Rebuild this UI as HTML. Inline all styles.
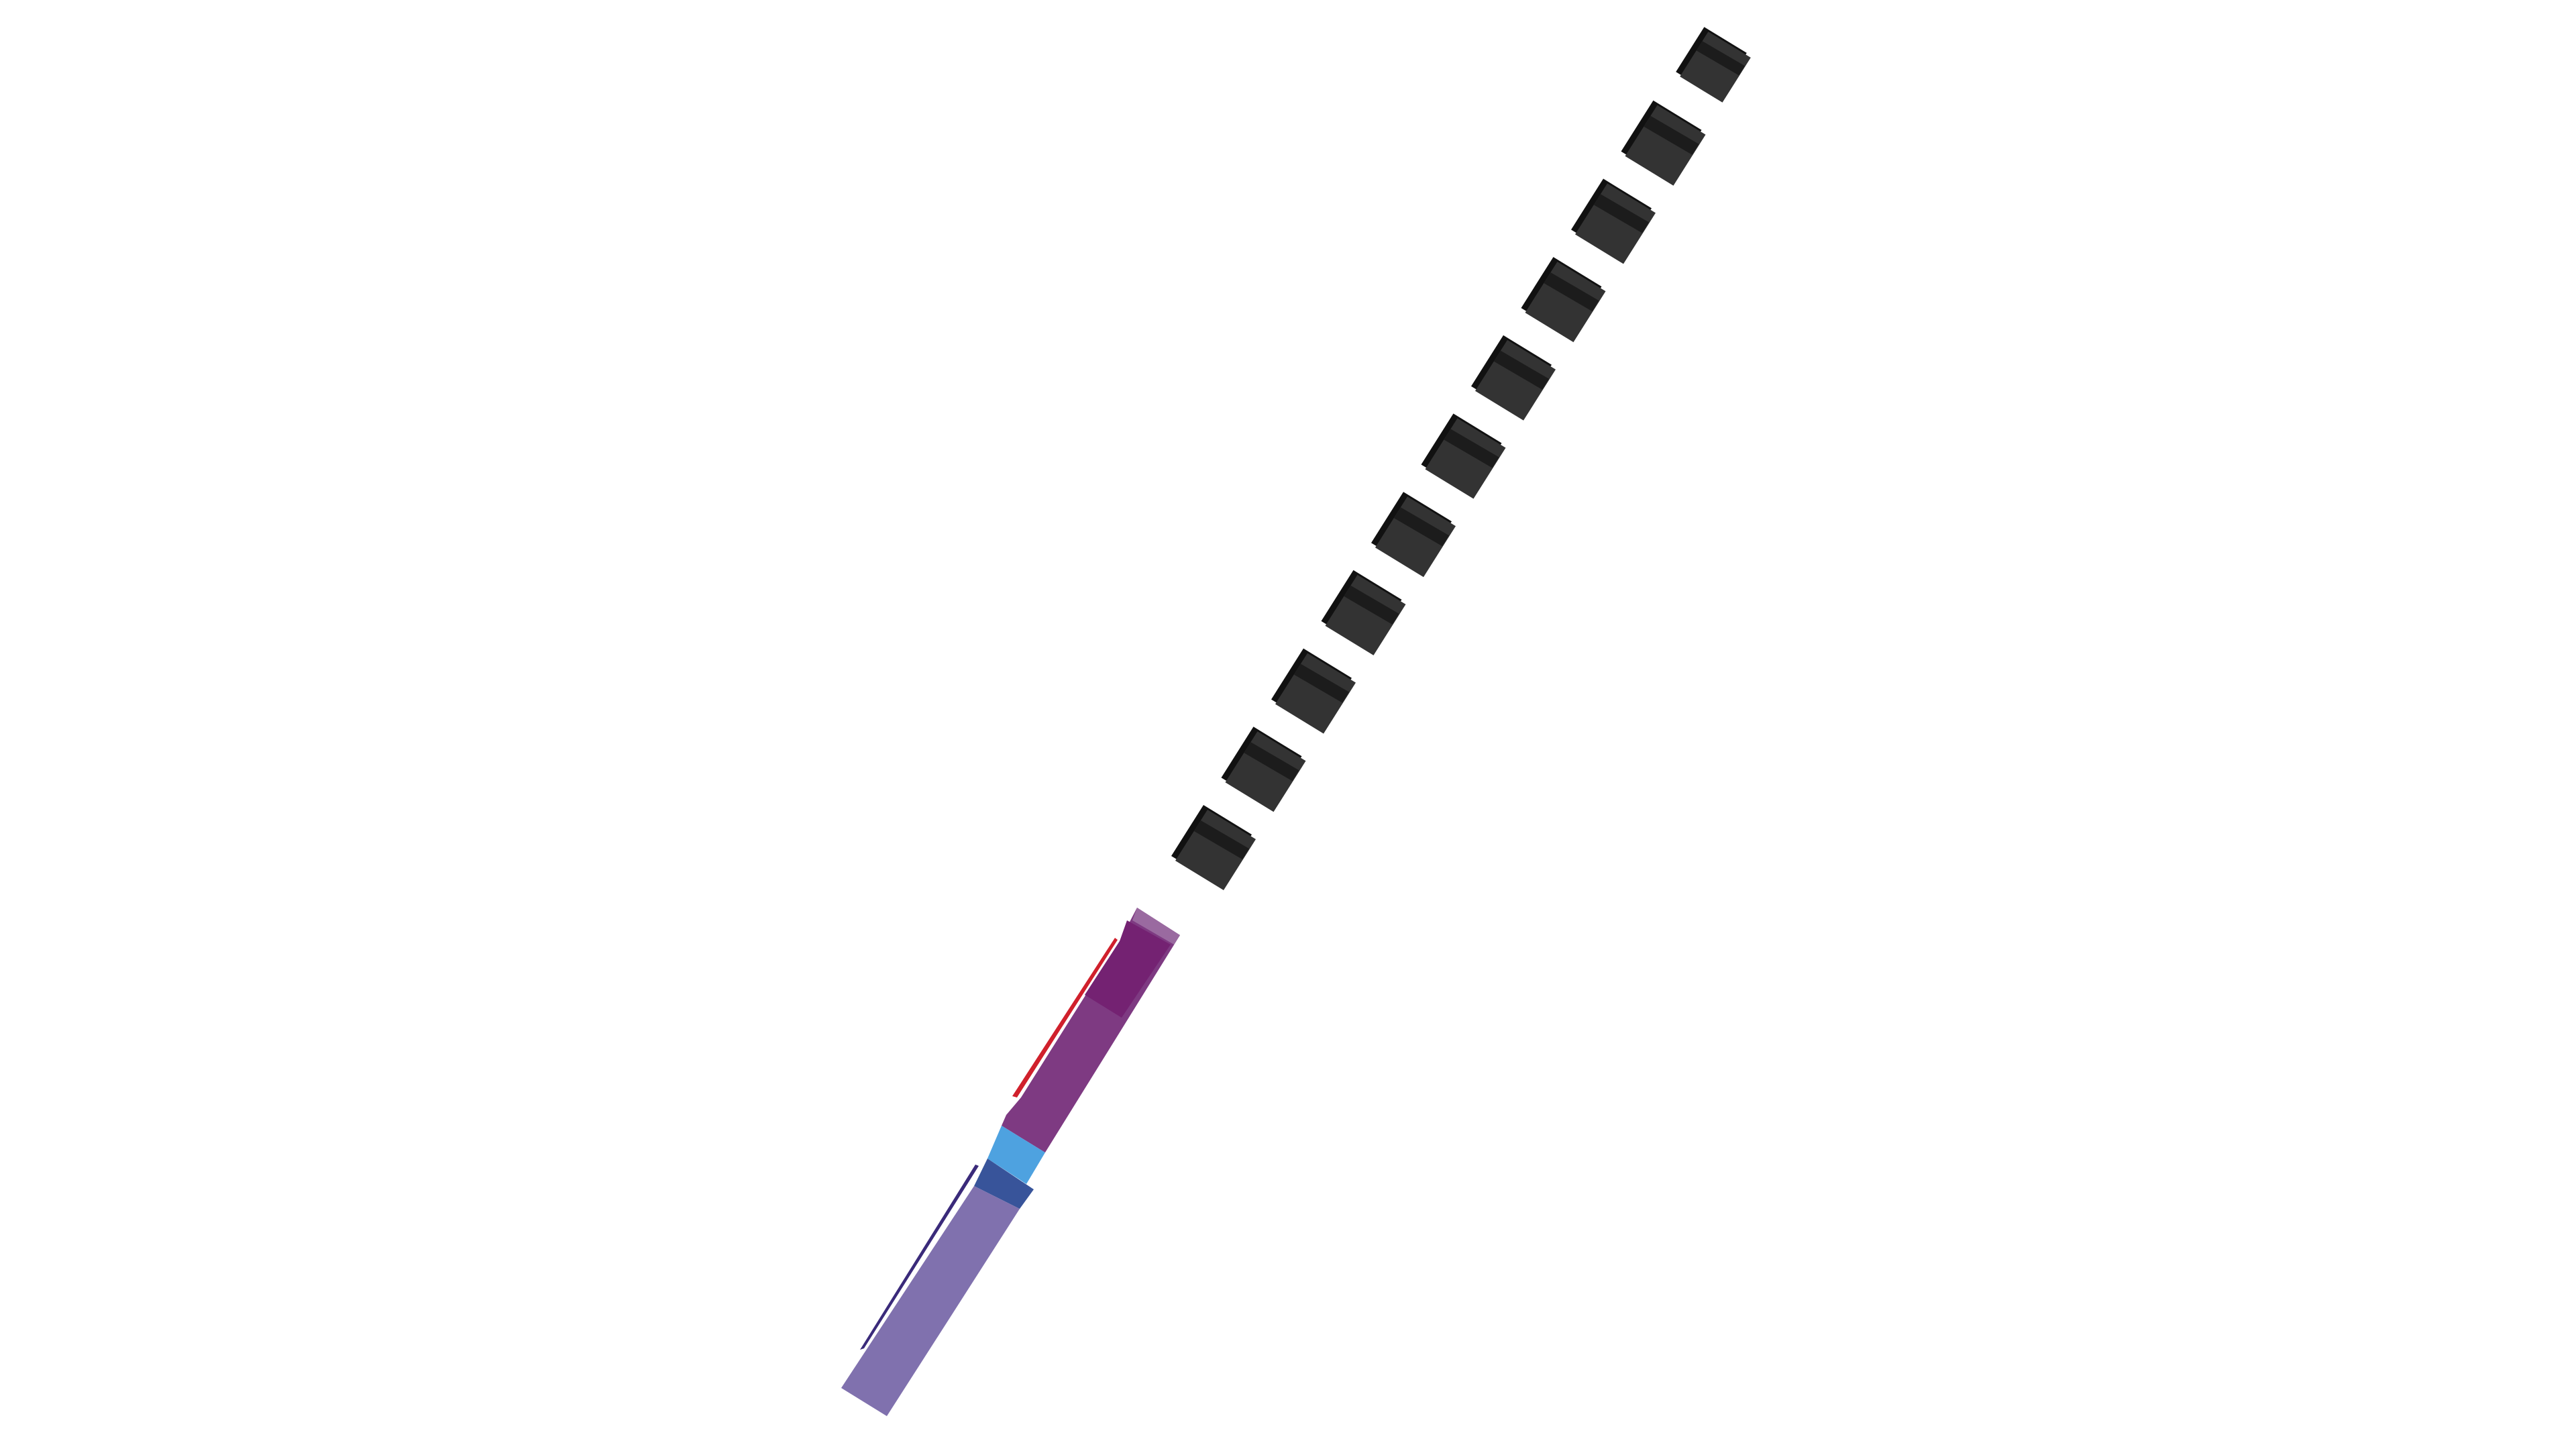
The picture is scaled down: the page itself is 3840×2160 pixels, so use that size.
<!DOCTYPE html>
<html><head><meta charset="utf-8"><style>
html,body{margin:0;padding:0;background:#fff;width:3840px;height:2160px;overflow:hidden}
svg{display:block}
</style></head><body>
<svg id="chart" width="3840" height="2160" viewBox="0 0 3840 2160">
<g id="bands">
  <polygon points="1662,1398 1666,1401 1516,1636 1509,1634" fill="#d0202c"/>
  <polygon points="1454,1736 1459,1738 1288,2010 1282,2012" fill="#3a2a7a"/>
  <polygon points="1695,1353 1759,1394 1558,1718 1493,1678 1500,1662 1522,1636 1669,1403" fill="#7e3a82"/>
  <polygon points="1680,1372 1745,1408 1672,1517 1617,1483 1669,1403" fill="#742272"/>
  <polygon points="1695,1353 1759,1394 1750,1408 1688,1372" fill="#9a6aa0"/>
  <polygon points="1493,1678 1558,1718 1530,1765 1472,1727" fill="#4ea2e0"/>
  <polygon points="1472,1727 1541,1773 1520,1802 1452,1768" fill="#38549a"/>
  <polygon points="1452,1768 1520,1802 1322,2111 1254,2069" fill="#8071ae"/>
</g>
<g id="cubes"></g>
</svg>
<script>
const categories = [1,2,3,4,5,6,7,8,9,10,11];
const values = [0,1,2,3,4,5,6,7,8,9,10];
const origin = {x:2557, y:100};
const step = {x:-74.5, y:116.7};
function xPos(v){ return origin.x + v*step.x; }
function yPos(v){ return origin.y + v*step.y; }
const shape = [[-12,-60],[60,-16],[12,60],[-60,16]];
const g = document.getElementById('cubes');
const ns = 'http://www.w3.org/2000/svg';
values.forEach((v,i)=>{
  const cx = xPos(v), cy = yPos(v);
  const k = Math.min(1, 0.88 + 0.12*i);
  const pt = (p,dx,dy)=>(cx+p[0]*k+dx)+','+(cy+p[1]*k+dy);
  const back = document.createElementNS(ns,'polygon');
  
  
  back.setAttribute('points', shape.map(p=>pt(p,-6,-7)).join(' '));
  back.setAttribute('fill','#111');
  g.appendChild(back);
  const poly = document.createElementNS(ns,'polygon');
  
  
  poly.setAttribute('points', shape.map(p=>pt(p,0,0)).join(' '));
  poly.setAttribute('fill','#333');
  g.appendChild(poly);
  const band = document.createElementNS(ns,'polygon');
  
  
  band.setAttribute('points', [[-22,-44],[50,-2],[40,14],[-32,-28]].map(p=>pt(p,0,0)).join(' '));
  band.setAttribute('fill','#1c1c1c');
  g.appendChild(band);
});
</script>
</body></html>
